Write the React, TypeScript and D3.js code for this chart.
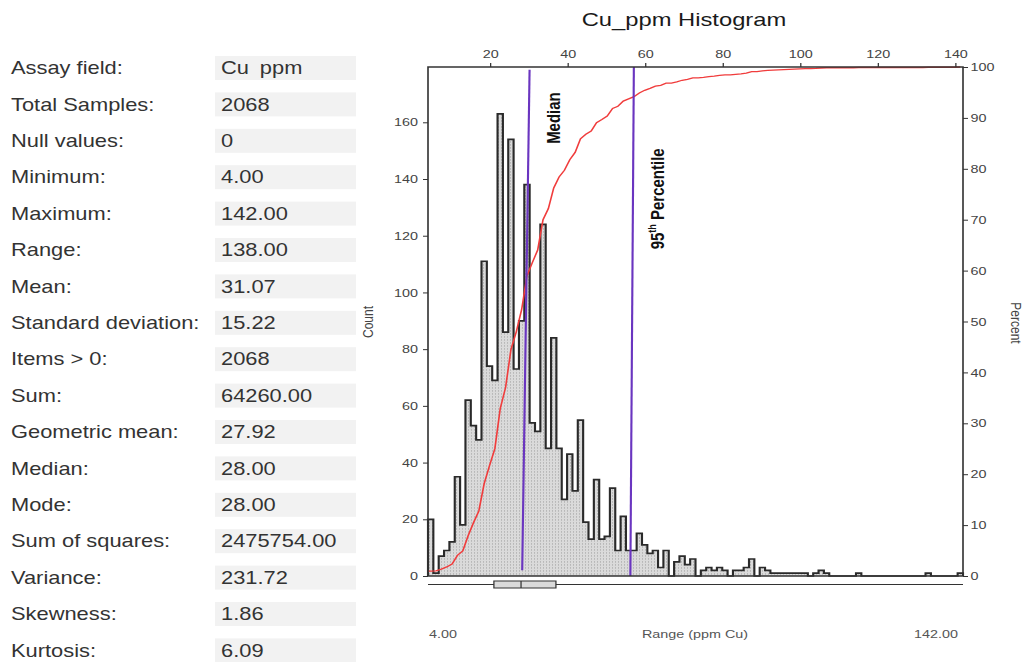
import React, { useEffect, useRef } from "react";
import * as d3 from "d3";

// ---- stats table ----
const statLabels = [
  "Assay field:", "Total Samples:", "Null values:", "Minimum:", "Maximum:", "Range:", "Mean:",
  "Standard deviation:", "Items > 0:", "Sum:", "Geometric mean:", "Median:", "Mode:",
  "Sum of squares:", "Variance:", "Skewness:", "Kurtosis:",
];
const statValues = [
  "Cu\u2002ppm", "2068", "0", "4.00", "142.00", "138.00", "31.07", "15.22", "2068", "64260.00",
  "27.92", "28.00", "28.00", "2475754.00", "231.72", "1.86", "6.09",
];

// ---- histogram (100 bins from 4 to 142) ----
const binStart = 4;
const binWidth = 1.38;
const binCounts = [
  20, 1, 7, 9, 12, 35, 18, 62, 53, 48,
  111, 74, 69, 163, 86, 154, 73, 90, 138, 54,
  51, 124, 45, 84, 45, 27, 43, 30, 55, 19,
  13, 34, 13, 14, 31, 9, 21, 9, 9, 15,
  11, 8, 9, 3, 9, 0, 5, 7, 4, 6,
  0, 2, 3, 2, 3, 2, 0, 2, 2, 3,
  6, 0, 3, 2, 1, 1, 1, 1, 1, 1,
  1, 0, 1, 2, 1, 0, 0, 0, 0, 0,
  1, 0, 0, 0, 0, 0, 0, 0, 0, 0,
  0, 0, 0, 1, 0, 0, 0, 0, 0, 1,
];

const topTicks = [20, 40, 60, 80, 100, 120, 140];
const countTicks = [0, 20, 40, 60, 80, 100, 120, 140, 160];
const percentTicks = [0, 10, 20, 30, 40, 50, 60, 70, 80, 90, 100];

// min, q1, median, q3, max
const boxStats = [4, 21, 28, 37, 142];

// hand drawn marker lines: [value, count] at bottom and top
const markerLines = [
  { label: "Median", bottom: [28.3, 2], top: [30.2, 178.5] },
  { label: "95th Percentile", bottom: [56.2, 0], top: [57.1, 179.5] },
];

const W = 1031;
const H = 662;
const SX = 1.25; // the picture is stretched sideways
const vx = (x: number) => x / SX;
const FONT = '"Liberation Sans", Arial, sans-serif';

const drawTable = (svg) => {
  const g = svg.append("g").attr("font-family", FONT);
  statLabels.forEach((label, i) => {
    const cy = 68 + i * 36.4;
    g.append("rect")
      .attr("x", vx(215)).attr("y", cy - 12)
      .attr("width", vx(356) - vx(215)).attr("height", 24)
      .attr("fill", "#f2f2f2");
    g.append("text")
      .attr("x", vx(11)).attr("y", cy)
      .attr("dominant-baseline", "central")
      .attr("font-size", 17.5).attr("fill", "#333")
      .text(label);
    g.append("text")
      .attr("x", vx(221)).attr("y", cy)
      .attr("dominant-baseline", "central")
      .attr("font-size", 17.5).attr("fill", "#333")
      .text(statValues[i]);
  });
};

const drawHistogram = (svg) => {
  const left = 428, right = 963, top = 67, base = 576;
  const x = d3.scaleLinear().domain([4, 142]).range([vx(left), vx(right)]);
  const yC = d3.scaleLinear().domain([0, 179.5]).range([base, top]);
  const yP = d3.scaleLinear().domain([0, 100]).range([base, top]);

  const g = svg.append("g").attr("font-family", FONT);

  const defs = svg.append("defs");
  const pat = defs.append("pattern")
    .attr("id", "dots").attr("patternUnits", "userSpaceOnUse")
    .attr("width", 2.4).attr("height", 3);
  pat.append("rect").attr("width", 2.4).attr("height", 3).attr("fill", "#dadada");
  pat.append("rect").attr("width", 0.8).attr("height", 1.8).attr("fill", "#b8b8b8");

  // step points
  const edges = d3.range(binCounts.length + 1).map(i => binStart + i * binWidth);
  const pts = [[edges[0], 0]];
  binCounts.forEach((c, i) => pts.push([edges[i], c]));
  pts.push([edges[binCounts.length], binCounts[binCounts.length - 1]]);
  pts.push([edges[binCounts.length], 0]);

  const area = d3.area().curve(d3.curveStepAfter)
    .x(d => x(d[0])).y0(base).y1(d => yC(d[1]));
  const line = d3.line().curve(d3.curveStepAfter)
    .x(d => x(d[0])).y(d => yC(d[1]));

  g.append("path").attr("d", area(pts)).attr("fill", "url(#dots)");
  g.append("path").attr("d", line(pts))
    .attr("fill", "none").attr("stroke", "#2a2a2a").attr("stroke-width", 1.7)
    .attr("stroke-linejoin", "miter");

  // cumulative percent
  const total = d3.sum(binCounts);
  const cum = d3.cumsum(binCounts);
  const cdf = [[edges[0], cum[0] / total * 100]];
  binCounts.forEach((c, i) => cdf.push([edges[i] + binWidth / 2, cum[i] / total * 100]));
  g.append("path")
    .attr("d", d3.line().x(d => x(d[0])).y(d => yP(d[1]))(cdf))
    .attr("fill", "none").attr("stroke", "#f03c3c").attr("stroke-width", 1.3);

  // marker lines
  markerLines.forEach(m => {
    g.append("line")
      .attr("x1", x(m.bottom[0])).attr("y1", yC(m.bottom[1]))
      .attr("x2", x(m.top[0])).attr("y2", yC(m.top[1]))
      .attr("stroke", "#6a35c0").attr("stroke-width", 1.7);
  });

  // frame
  g.append("path")
    .attr("d", `M${vx(left)},${base}V${top}H${vx(right)}V${base}Z`)
    .attr("fill", "none").attr("stroke", "#333").attr("stroke-width", 1.3);

  // axes
  const styleAxis = sel => {
    sel.select(".domain").remove();
    sel.selectAll(".tick line").attr("stroke", "#333");
    sel.selectAll(".tick text").attr("fill", "#444").attr("font-size", 11.5).attr("font-family", FONT);
  };
  g.append("g").attr("transform", `translate(0,${top})`)
    .call(d3.axisTop(x).tickValues(topTicks).tickSize(4).tickPadding(5))
    .call(styleAxis);
  g.append("g").attr("transform", `translate(${vx(left)},0)`)
    .call(d3.axisLeft(yC).tickValues(countTicks).tickSize(4).tickPadding(4))
    .call(styleAxis);
  g.append("g").attr("transform", `translate(${vx(right)},0)`)
    .call(d3.axisRight(yP).tickValues(percentTicks).tickSize(4).tickPadding(2))
    .call(styleAxis);

  // box plot
  const by = 584.5;
  g.append("line")
    .attr("x1", x(boxStats[0])).attr("x2", x(boxStats[4]))
    .attr("y1", by).attr("y2", by).attr("stroke", "#333").attr("stroke-width", 1.2);
  g.append("rect")
    .attr("x", x(boxStats[1])).attr("y", by - 3.5)
    .attr("width", x(boxStats[3]) - x(boxStats[1])).attr("height", 7)
    .attr("fill", "#dadada").attr("stroke", "#333").attr("stroke-width", 1);
  g.append("line")
    .attr("x1", x(boxStats[2])).attr("x2", x(boxStats[2]))
    .attr("y1", by - 3.5).attr("y2", by + 3.5).attr("stroke", "#333").attr("stroke-width", 1);

  // marker labels
  g.append("text")
    .attr("transform", `translate(${x(36.6)},${yC(161.5)}) rotate(-90)`)
    .attr("text-anchor", "middle").attr("dominant-baseline", "central")
    .attr("font-size", 15).attr("font-weight", "bold").attr("fill", "#111")
    .text("Median");
  const p = g.append("text")
    .attr("transform", `translate(${x(63.2)},${yC(133)}) rotate(-90)`)
    .attr("text-anchor", "middle").attr("dominant-baseline", "central")
    .attr("font-size", 15).attr("font-weight", "bold").attr("fill", "#111");
  p.append("tspan").text("95");
  p.append("tspan").attr("font-size", 9).attr("dy", -5).text("th");
  p.append("tspan").attr("dy", 5).text(" Percentile");

  // titles
  g.append("text")
    .attr("x", vx(684)).attr("y", 26)
    .attr("text-anchor", "middle").attr("font-size", 19).attr("fill", "#1a1a1a")
    .text("Cu_ppm Histogram");
  g.append("text")
    .attr("transform", `translate(${vx(368)},322) rotate(-90)`)
    .attr("text-anchor", "middle").attr("dominant-baseline", "central")
    .attr("font-size", 12).attr("fill", "#444").text("Count");
  g.append("text")
    .attr("transform", `translate(${vx(1016)},323) rotate(90)`)
    .attr("text-anchor", "middle").attr("dominant-baseline", "central")
    .attr("font-size", 12).attr("fill", "#444").text("Percent");

  const bl = 638;
  g.append("text").attr("x", vx(429)).attr("y", bl)
    .attr("font-size", 11.5).attr("fill", "#555").text("4.00");
  g.append("text").attr("x", vx(695)).attr("y", bl).attr("text-anchor", "middle")
    .attr("font-size", 11.5).attr("fill", "#555").text("Range (ppm Cu)");
  g.append("text").attr("x", vx(958)).attr("y", bl).attr("text-anchor", "end")
    .attr("font-size", 11.5).attr("fill", "#555").text("142.00");
};

export default function App() {
  const ref = useRef(null);

  useEffect(() => {
    const svg = d3.select(ref.current);
    svg.selectAll("*").remove();
    drawTable(svg);
    drawHistogram(svg);
  }, []);

  return (
    <svg
      ref={ref}
      width={W}
      height={H}
      viewBox={`0 0 ${W / SX} ${H}`}
      preserveAspectRatio="none"
      style={{ position: "absolute", left: 0, top: 0, background: "#fff" }}
    />
  );
}
